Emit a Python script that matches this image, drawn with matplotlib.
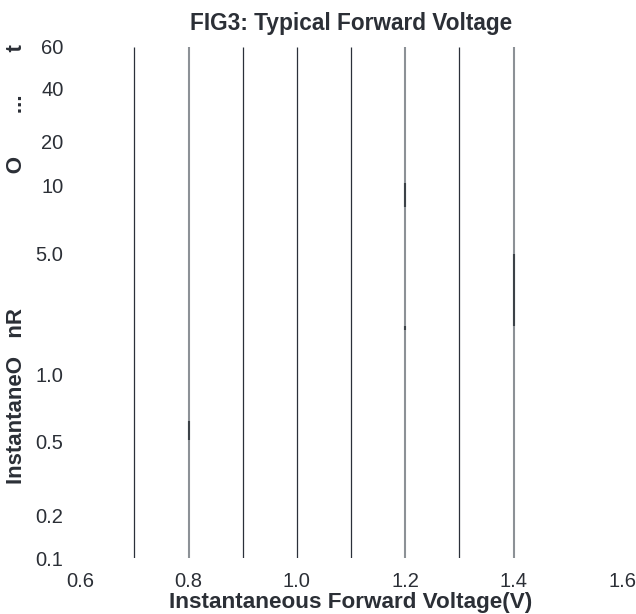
import matplotlib
matplotlib.use("Agg")
import matplotlib.pyplot as plt
import numpy as np
from matplotlib.ticker import FixedLocator, FixedFormatter, NullLocator

plt.rcParams['font.family'] = ['Liberation Sans', 'DejaVu Sans']

# x positions of the vertical lines (V) and their look
line_x = [0.7, 0.8, 0.9, 1.0, 1.1, 1.2, 1.3, 1.4]
line_kind = ['dark', 'gray', 'dark', 'dark', 'dark', 'gray', 'dark', 'gray']

# darker pieces over the gray lines: (x, y_from, y_to) in current units
seg_x = [0.8, 1.2, 1.2, 1.4]
seg_lo = [0.51, 8.1, 1.8, 1.9]
seg_hi = [0.62, 10.5, 1.9, 5.0]

x_ticks = [0.6, 0.8, 1.0, 1.2, 1.4, 1.6]
x_labels = ['0.6', '0.8', '1.0', '1.2', '1.4', '1.6']
y_ticks = [0.1, 0.2, 0.5, 1.0, 5.0, 10, 20, 40, 60]
y_labels = ['0.1', '0.2', '0.5', '1.0', '5.0', '10', '20', '40', '60']
# where each tick value sits along the axis height (fraction)
y_frac = [0.0, 0.084, 0.227, 0.360, 0.595, 0.728, 0.816, 0.918, 1.0]

TEXT = '#2b2f36'
DARK = '#2b303a'
GRAY = '#8c9196'

lt = np.log10(y_ticks)
fr = np.array(y_frac)
lt_ext = np.concatenate([[lt[0] - 10], lt, [lt[-1] + 10]])
fr_ext = np.concatenate([[fr[0] - 10 * 0.18], fr, [fr[-1] + 10 * 0.18]])


def fwd(v):
    v = np.clip(np.asarray(v, dtype=float), 1e-12, None)
    return np.interp(np.log10(v), lt_ext, fr_ext)


def inv(f):
    return 10 ** np.interp(np.asarray(f, dtype=float), fr_ext, lt_ext)


fig = plt.figure(figsize=(6.36, 6.14), dpi=100)
ax = fig.add_axes([0.126, 0.0912, 0.852, 0.8323])
ax.set_yscale('function', functions=(fwd, inv))
ax.set_xlim(0.6, 1.6)
ax.set_ylim(0.1, 60)

for x, kind in zip(line_x, line_kind):
    if kind == 'dark':
        ax.plot([x, x], [0.1, 60], color=DARK, lw=0.9, solid_capstyle='butt')
    else:
        ax.plot([x, x], [0.1, 60], color=GRAY, lw=1.5, solid_capstyle='butt')

for x, lo, hi in zip(seg_x, seg_lo, seg_hi):
    ax.plot([x, x], [lo, hi], color='#3c4248', lw=1.5, solid_capstyle='butt')

for s in ax.spines.values():
    s.set_visible(False)

ax.xaxis.set_major_locator(FixedLocator(x_ticks))
ax.xaxis.set_major_formatter(FixedFormatter(x_labels))
ax.yaxis.set_major_locator(FixedLocator(y_ticks))
ax.yaxis.set_major_formatter(FixedFormatter(y_labels))
ax.yaxis.set_minor_locator(NullLocator())
ax.xaxis.set_minor_locator(NullLocator())
ax.tick_params(axis='both', length=0, labelsize=14.5, labelcolor=TEXT)
ax.tick_params(axis='x', pad=10)
ax.tick_params(axis='y', pad=12)

ax.set_title('FIG3: Typical Forward Voltage', fontsize=16.3, fontweight='bold',
             color=TEXT, pad=12)
ax.set_xlabel('Instantaneous Forward Voltage(V)', fontsize=16.2,
              fontweight='bold', color=TEXT, labelpad=1)
ax.set_ylabel('InstantaneO' + ' ' * 3 + 'nR' + ' ' * 22 + 'O' + ' ' * 7 + '...' + ' ' * 7 + 't',
              fontsize=16, fontweight='bold', color=TEXT)
ax.yaxis.set_label_coords(-0.098, 0.575)

fig.savefig('out.png', dpi=100)
